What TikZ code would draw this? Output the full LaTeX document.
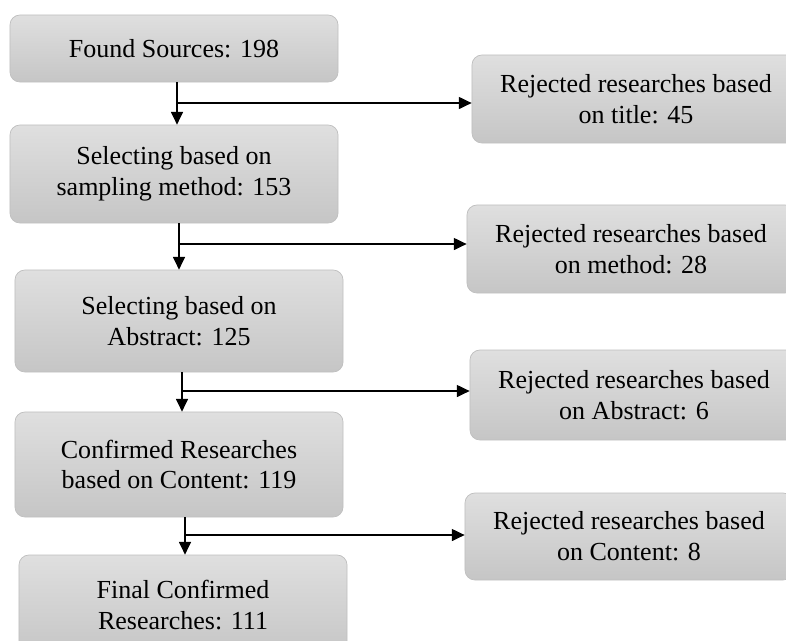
\documentclass[tikz,border=0pt]{standalone}
\usepackage{fontspec}
\setmainfont{Liberation Serif}
\usetikzlibrary{arrows.meta}
\begin{document}
\begin{tikzpicture}[x=0.025cm, y=-0.025cm, >={Triangle[length=9pt,width=8.5pt]}, line width=0.8pt,
  box/.style={rounded corners=0.25cm, draw=gray!50, line width=0.5pt, top color=gray!25, bottom color=gray!45,
    minimum width=8.2cm, align=center, inner sep=0pt, font=\fontsize{18.5}{22}\selectfont}]
\useasboundingbox (0,0) rectangle (786,640);
\clip (0,0) rectangle (786,640);

% selected
\node[box, minimum height=1.675cm] (found) at (174,48.5) {Found Sources: 198};
\node[box, minimum height=2.45cm] (sampling) at (174,174) {Selecting based on\\sampling method: 153};
\node[box, minimum height=2.55cm] (abstract) at (179,321) {Selecting based on\\Abstract: 125};
\node[box, minimum height=2.625cm] (content) at (179,464.5) {Confirmed Researches\\based on Content: 119};
\node[box, minimum height=2.5cm] (final) at (183,605) {Final Confirmed\\Researches: 111};

% rejected
\node[box, minimum height=2.2cm] (title) at (636,99) {Rejected researches based\\on title: 45};
\node[box, minimum height=2.2cm] (method) at (631,249) {Rejected researches based\\on method: 28};
\node[box, minimum height=2.25cm] (abs) at (634,395) {Rejected researches based\\on Abstract: 6};
\node[box, minimum height=2.175cm] (cont) at (629,536.5) {Rejected researches based\\on Content: 8};

\coordinate (b1) at (177,103);
\coordinate (b2) at (179,244);
\coordinate (b3) at (182,391);
\coordinate (b4) at (185,535);

\draw[->] (b1 |- found.south) -- (b1 |- sampling.north);
\draw[->] (b2 |- sampling.south) -- (b2 |- abstract.north);
\draw[->] (b3 |- abstract.south) -- (b3 |- content.north);
\draw[->] (b4 |- content.south) -- (b4 |- final.north);

\draw[->] (b1) -- (b1 -| title.west);
\draw[->] (b2) -- (b2 -| method.west);
\draw[->] (b3) -- (b3 -| abs.west);
\draw[->] (b4) -- (b4 -| cont.west);
\end{tikzpicture}
\end{document}
